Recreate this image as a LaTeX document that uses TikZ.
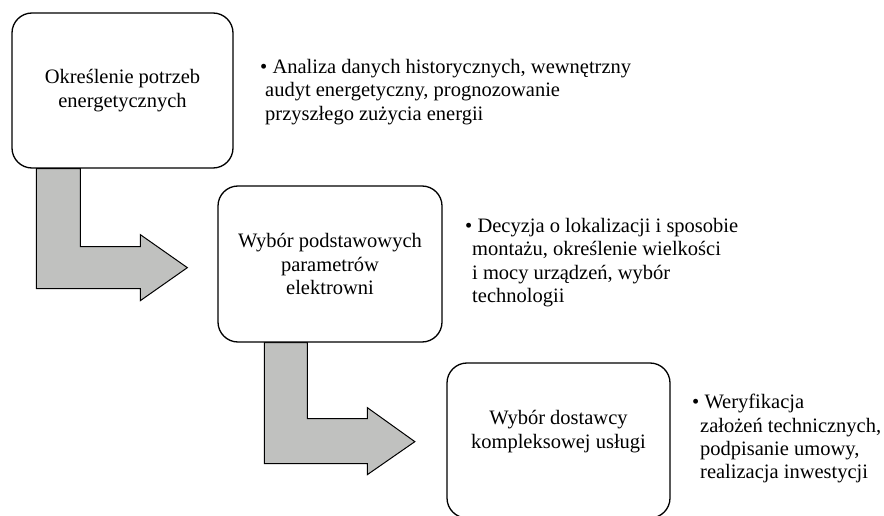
\documentclass[tikz,border=0pt]{standalone}
\usepackage{fontspec}
\setmainfont{Liberation Serif}
\usetikzlibrary{calc}
\usetikzlibrary{backgrounds}

\definecolor{arrowgray}{RGB}{192,193,191}
\newcommand{\dotmark}{\textbullet\ }

\begin{document}
\begin{tikzpicture}[x=1pt, y=-1pt]
        % Define styles for shapes
        \tikzstyle{stage} = [draw, line width=1.3pt, fill=white, rounded corners=20pt, align=center, font=\fontsize{20.5}{23.4}\selectfont]
        \tikzstyle{note} = [anchor=north west, inner sep=0pt, align=left, font=\fontsize{20.5}{23.4}\selectfont]
        \tikzstyle{bent} = [draw, line width=1pt, fill=arrowgray, line join=miter]
        \useasboundingbox (0,0) rectangle (884,516);
        % Draw shapes
        \node[stage, minimum width=221pt, minimum height=155pt] (stage1) at (122.5, 90.5) {Określenie potrzeb\\energetycznych};
        \node[stage, minimum width=224pt, minimum height=156pt] (stage2) at (330, 264) {Wybór podstawowych\\parametrów\\elektrowni};
        \node[stage, minimum width=223pt, minimum height=155pt, text depth=22pt] (stage3) at (558.5, 440.5) {Wybór dostawcy\\kompleksowej usługi};

        % Draw notes
        \node[note] (note1) at (260, 59) {\dotmark Analiza danych historycznych, wewnętrzny\\
                \hspace*{5pt}audyt energetyczny, prognozowanie\\
                \hspace*{5pt}przyszłego zużycia energii};
        \node[note] (note2) at (465, 218) {\dotmark Decyzja o lokalizacji i sposobie\\
                \hspace*{7pt}montażu, określenie wielkości\\
                \hspace*{7pt}i mocy urządzeń, wybór\\
                \hspace*{7pt}technologii};
        \node[note] (note3) at (692, 394) {\dotmark Weryfikacja\\
                \hspace*{8pt}założeń technicznych,\\
                \hspace*{8pt}podpisanie umowy,\\
                \hspace*{8pt}realizacja inwestycji};

        % Draw arrows
        \begin{scope}[on background layer]
            \draw[bent] ($(stage1.south west)+(25,0)$) -- ++(44,0) -- ++(0,78) -- ++(60,0) -- ++(0,-12)
                -- ++(47,33) -- ++(-47,33) -- ++(0,-12) -- ++(-104,0) -- cycle;
            \draw[bent] ($(stage2.south west)+(47,0)$) -- ++(43,0) -- ++(0,76) -- ++(60,0) -- ++(0,-11)
                -- ++(47.5,34) -- ++(-47.5,33) -- ++(0,-11) -- ++(-103,0) -- cycle;
        \end{scope}
    \end{tikzpicture}
\end{document}
